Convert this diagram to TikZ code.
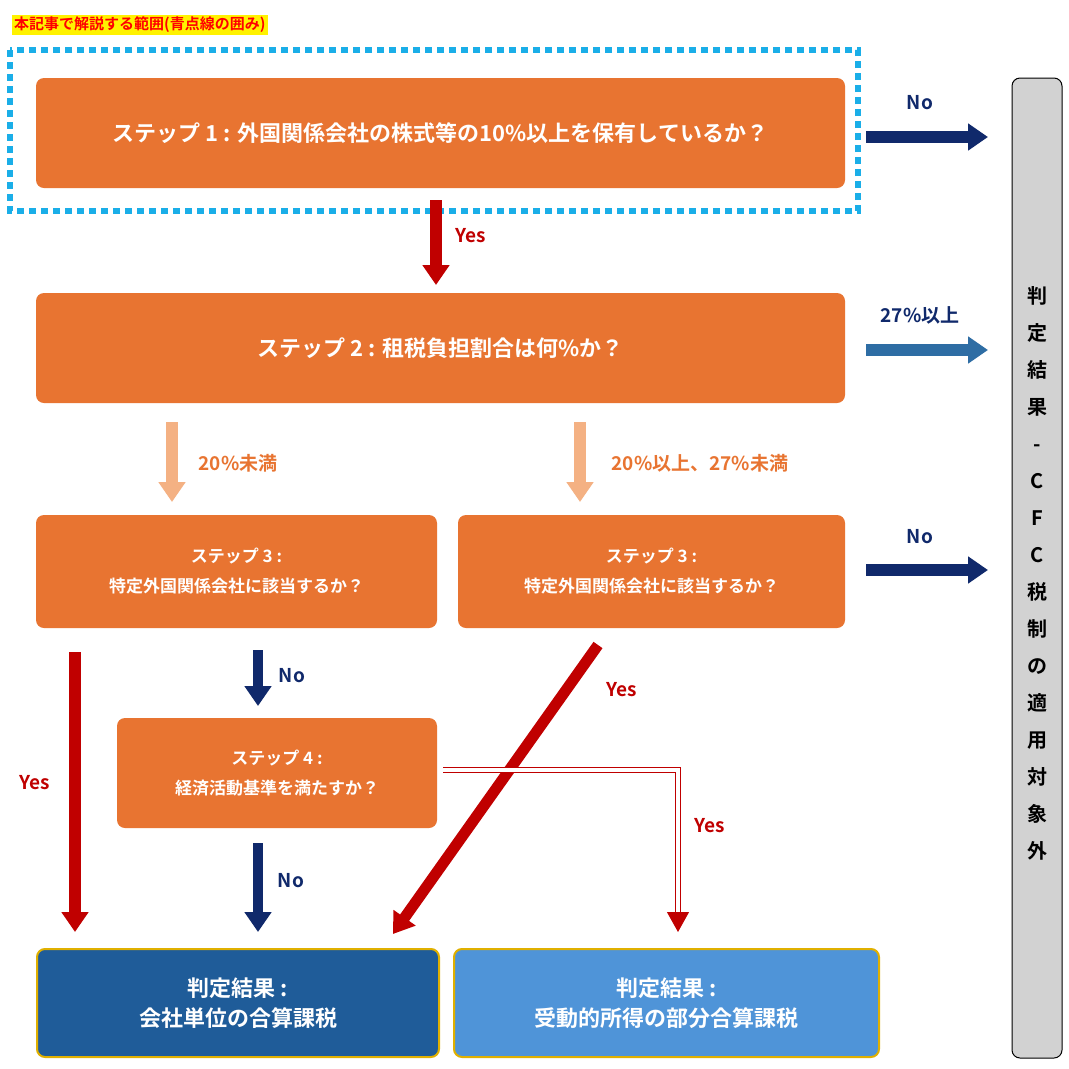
\documentclass[tikz,border=0pt]{standalone}
\usepackage{fontspec}
\setmainfont{Noto Sans CJK JP}[BoldFont={Noto Sans CJK JP Bold}]
\usetikzlibrary{arrows.meta,positioning}
\definecolor{org}{HTML}{E87431}
\definecolor{dred}{HTML}{C00000}
\definecolor{navy}{HTML}{10296B}
\definecolor{steel}{HTML}{2E6DA4}
\definecolor{pale}{HTML}{F4B183}
\definecolor{res1}{HTML}{1F5C99}
\definecolor{res2}{HTML}{4F94D8}
\definecolor{gold}{HTML}{E0B000}
\definecolor{cyanb}{HTML}{1AAEE8}
\begin{document}
\begin{tikzpicture}[x=1pt,y=-1pt,
 box/.style={fill=org,rounded corners=8pt,text=white,font=\bfseries,align=center,inner sep=0},
 res/.style={rounded corners=8pt,draw=gold,line width=2pt,text=white,font=\bfseries\fontsize{22}{30}\selectfont,align=center},
 blk/.style={line width=12pt,-{Triangle[length=20pt,width=26pt]}},
 lab/.style={font=\bfseries\fontsize{19}{22}\selectfont}]
\useasboundingbox (0,0) rectangle (1069,1069);
\fill[white] (0,0) rectangle (1069,1069);
\node[fill=yellow,text=red,font=\bfseries\fontsize{15}{18}\selectfont,inner sep=2pt,anchor=west] (lbl) at (12,25) {本記事で解説する範囲(青点線の囲み)};
\draw[cyanb,line width=6pt,dash pattern=on 7pt off 5pt] (10,50) rectangle (858,211);
\node[box,minimum width=809pt,minimum height=110pt,font=\bfseries\fontsize{22}{26}\selectfont] (s1) at (440.5,133) {ステップ 1 : 外国関係会社の株式等の10\%以上を保有しているか？};
\node[box,minimum width=809pt,minimum height=110pt,font=\bfseries\fontsize{22}{26}\selectfont] (s2) at (440.5,348) {ステップ 2 : 租税負担割合は何\%か？};
\node[box,minimum width=401pt,minimum height=113pt,font=\bfseries\fontsize{17}{30}\selectfont] (s3a) at (236.5,571.5) {ステップ 3 :\\特定外国関係会社に該当するか？};
\node[box,minimum width=387pt,minimum height=113pt,font=\bfseries\fontsize{17}{30}\selectfont] (s3b) at (651.5,571.5) {ステップ 3 :\\特定外国関係会社に該当するか？};
\node[box,minimum width=320pt,minimum height=110pt,font=\bfseries\fontsize{17}{30}\selectfont] (s4) at (277,773) {ステップ 4 :\\経済活動基準を満たすか？};
\node[res,fill=res1,minimum width=402pt,minimum height=108pt] (r1) at (238,1003) {判定結果 :\\会社単位の合算課税};
\node[res,fill=res2,minimum width=425pt,minimum height=108pt] (r2) at (666.5,1003) {判定結果 :\\受動的所得の部分合算課税};
\node[draw=black,fill=gray!35,rounded corners=8pt,minimum width=50pt,minimum height=980pt,line width=1pt] (cfc) at (1037,568) {};
\node[font=\bfseries\fontsize{20}{37}\selectfont,align=center] (cfct) at (1037,573) {判\\定\\結\\果\\-\\C\\F\\C\\税\\制\\の\\適\\用\\対\\象\\外};
% coordinates
\coordinate (a1) at (436,200); \coordinate (a1e) at (436,285);
\draw[blk,dred] (a1) -- (a1e);
\node[lab,text=dred] (y1) at (471,236) {Yes};
\coordinate (n1s) at (866,137); \coordinate (n1e) at (988,137);
\draw[blk,navy] (n1s) -- (n1e);
\node[lab,text=navy] (n1l) at (920,103) {No};
\coordinate (p1s) at (866,350); \coordinate (p1e) at (988,350);
\draw[blk,steel] (p1s) -- (p1e);
\node[lab,text=navy] (p1l) at (920,315) {27\%以上};
\coordinate (n2s) at (866,570); \coordinate (n2e) at (988,570);
\draw[blk,navy] (n2s) -- (n2e);
\node[lab,text=navy] (n2l) at (920,537) {No};
\coordinate (q1s) at (172,422); \coordinate (q1e) at (172,502);
\draw[blk,pale] (q1s) -- (q1e);
\node[lab,text=org] (q1l) at (238,463) {20\%未満};
\coordinate (q2s) at (580,422); \coordinate (q2e) at (580,502);
\draw[blk,pale] (q2s) -- (q2e);
\node[lab,text=org] (q2l) at (700,463) {20\%以上、27\%未満};
\coordinate (ys) at (75,652); \coordinate (ye) at (75,932);
\draw[blk,dred] (ys) -- (ye);
\node[lab,text=dred] (yl) at (35,783) {Yes};
\coordinate (no1s) at (258,650); \coordinate (no1e) at (258,706);
\draw[blk,navy,line width=10pt] (no1s) -- (no1e);
\node[lab,text=navy] (no1l) at (292,676) {No};
\coordinate (no2s) at (258,843); \coordinate (no2e) at (258,932);
\draw[blk,navy,line width=10pt] (no2s) -- (no2e);
\node[lab,text=navy] (no2l) at (291,881) {No};
\coordinate (ds) at (598,645); \coordinate (de) at (393,934);
\draw[blk,dred,line width=11pt] (ds) -- (de);
\node[lab,text=dred] (dl) at (622,690) {Yes};
\coordinate (ws) at (443,770); \coordinate (wc) at (678,770); \coordinate (wm) at (678,912); \coordinate (we) at (678,932);
\draw[dred,line width=1.4pt,double=white,double distance=4pt] (ws) -- (wc) -- (wm);
\draw[dred,line width=1pt,-{Triangle[length=20pt,width=22pt]}] (wm) -- (we);
\node[lab,text=dred] (wl) at (710,826) {Yes};
\end{tikzpicture}
\end{document}
